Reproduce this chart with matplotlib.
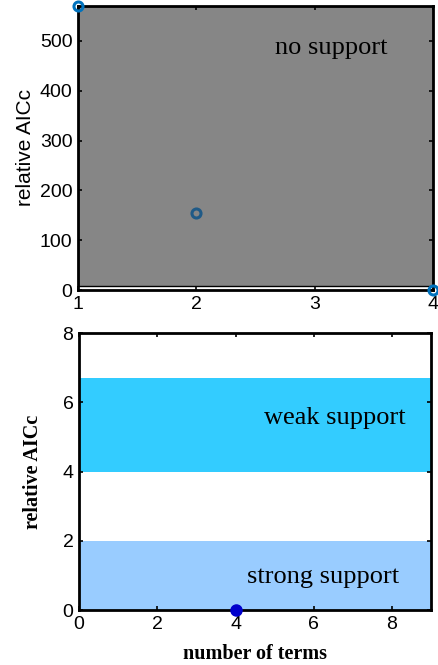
import numpy as np
import matplotlib
matplotlib.use('Agg')
import matplotlib.pyplot as plt
from matplotlib.patches import Rectangle

# Top panel: relative AICc per number of terms
terms_top = [1, 2, 4]
aicc_top = [570, 155, 0]
top_xticks = [1, 2, 3, 4]
top_yticks = [0, 100, 200, 300, 400, 500]

# Bottom panel: selected model and support bands
best_terms = [4]
best_aicc = [0]
strong_band = (0, 2)
weak_band = (4, 6.7)
bottom_xticks = [0, 2, 4, 6, 8]
bottom_yticks = [0, 2, 4, 6, 8]

plt.rcParams['font.family'] = ['Liberation Sans', 'DejaVu Sans']
serif = ['Liberation Serif', 'DejaVu Serif']


def style_axes(ax):
    for s in ax.spines.values():
        s.set_linewidth(2)
        s.set_color('black')
    ax.tick_params(direction='in', length=3, width=1.2, labelsize=14,
                   top=True, right=True, pad=4)


fig = plt.figure(figsize=(4.38, 6.65), dpi=100)

# --- top panel ---
ax1 = fig.add_axes([0.178, 0.5639, 0.8105, 0.4271])
ax1.add_patch(Rectangle((1, 8), 3, 562, facecolor='#868686',
                        edgecolor='black', linewidth=1, zorder=0))
ax1.plot(terms_top[0], aicc_top[0], 'o', mfc='none', mec='#0072BD',
         ms=6.5, mew=2.2, clip_on=False, zorder=5)
ax1.plot(terms_top[1], aicc_top[1], 'o', mfc='none', mec='#1f5a87',
         ms=6.5, mew=2.2, clip_on=False, zorder=5)
ax1.plot(terms_top[2], aicc_top[2], 'o', mfc='none', mec='#0072BD',
         ms=6.5, mew=2.2, clip_on=False, zorder=5)
ax1.set_xlim(1, 4)
ax1.set_ylim(0, 570)
ax1.set_xticks(top_xticks)
ax1.set_yticks(top_yticks)
ax1.set_ylabel('relative AICc', fontsize=15, labelpad=3)
ax1.text(3.14, 486, 'no support', fontsize=19, family=serif,
         ha='center', va='center')
style_axes(ax1)

# --- bottom panel ---
ax2 = fig.add_axes([0.1804, 0.0827, 0.804, 0.4165])
ax2.axhspan(*strong_band, color='#99ccff', lw=0, zorder=0)
ax2.axhspan(*weak_band, color='#33ccff', lw=0, zorder=0)
ax2.plot(best_terms, best_aicc, 'o', color='#0000cc', ms=8,
         clip_on=False, zorder=5)
ax2.set_xlim(0, 9)
ax2.set_ylim(0, 8)
ax2.set_xticks(bottom_xticks)
ax2.set_yticks(bottom_yticks)
ax2.set_ylabel('relative AICc', fontsize=14.5, family=serif,
               fontweight='bold', labelpad=14)
ax2.set_xlabel('number of terms', fontsize=14.5, family=serif,
               fontweight='bold', labelpad=8)
ax2.text(6.55, 5.55, 'weak support', fontsize=19, family=serif,
         ha='center', va='center')
ax2.text(6.24, 0.95, 'strong support', fontsize=19, family=serif,
         ha='center', va='center')
style_axes(ax2)

fig.savefig('out.png', dpi=100)
